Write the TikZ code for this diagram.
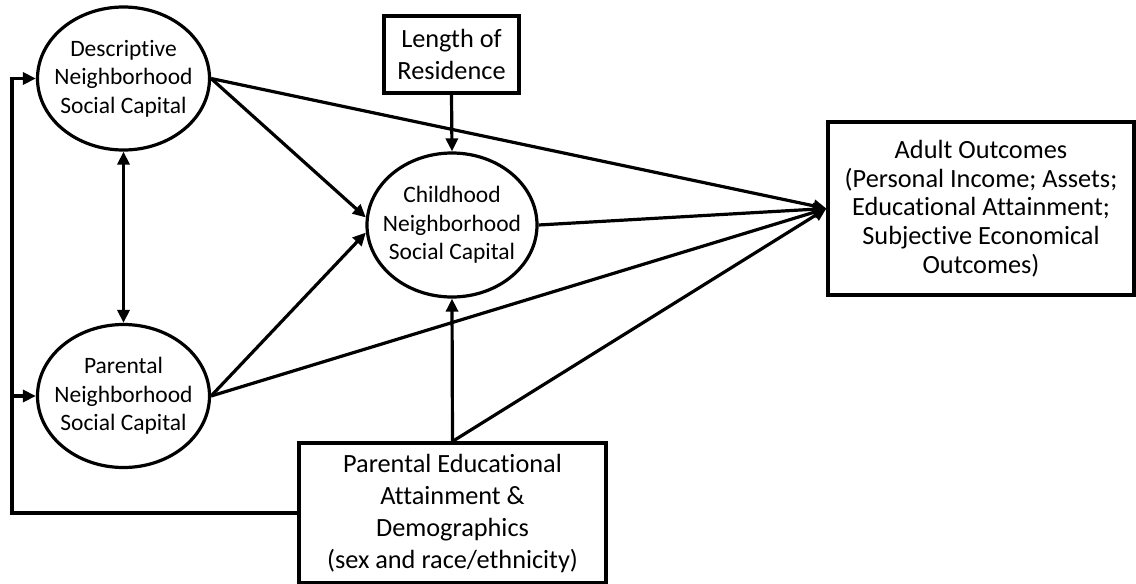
\documentclass[tikz,border=0pt]{standalone}
\usepackage{fontspec}
\setmainfont{Carlito}[Ligatures={NoCommon}]
\usetikzlibrary{shapes.geometric,arrows.meta}
\begin{document}
\begin{tikzpicture}[x=1pt,y=-1pt,
  line width=3.2pt,
  latent/.style={draw, ellipse, minimum width=172pt, minimum height=143pt,
    inner xsep=-15pt, inner ysep=0pt, align=center,
    font=\fontsize{23.5}{28.5}\selectfont},
  obsbox/.style={draw, rectangle, align=center, inner sep=0pt,
    font=\fontsize{26.3}{32}\selectfont},
  arr/.style={-{Triangle[length=13pt,width=12pt]}},
  darr/.style={{Triangle[length=13pt,width=12pt]}-{Triangle[length=13pt,width=12pt]}}]

\useasboundingbox (0,0) rectangle (1136,584);

% latent constructs
\node[latent] (desc)  at (123.5,78.5) {Descriptive\\Neighborhood\\Social Capital};
\node[latent] (par)   at (123.5,396)  {Parental\\Neighborhood\\Social Capital};
\node[latent, minimum width=170pt, minimum height=144pt] (child) at (452,225)
  {Childhood\\Neighborhood\\Social Capital};

% observed variables
\node[obsbox, minimum width=135pt, minimum height=77pt] (len) at (451.5,54.5)
  {Length of\\Residence};
\node[obsbox, minimum width=306pt, minimum height=173pt,
  font=\fontsize{26.3}{28.7}\selectfont] (adult) at (981,208.5)
  {Adult Outcomes\\(Personal Income; Assets;\\Educational Attainment;\\Subjective Economical\\Outcomes)};
\node[obsbox, minimum width=307pt, minimum height=140pt] (ped) at (452.5,513)
  {Parental Educational\\Attainment \&\\Demographics\\(sex and race/ethnicity)};

% left feedback bus
\coordinate (bus) at (12,0);

% paths
\draw[darr] (desc.south) -- (par.north);
\draw[arr] (desc.east) -- (adult.west);
\draw[arr] (desc.east) -- (child.175);
\draw[arr] (par.east) -- (child.185);
\draw[arr] (par.east) -- (adult.west);
\draw[arr] (child.east) -- (adult.west);
\draw[arr] (len.south) -- (child.north);
\draw[arr] (ped.north) -- (child.south);
\draw[arr] (ped.north) -- (adult.west);
\draw[arr, line join=miter] (ped.west) -- (ped.west -| bus) |- (desc.west);
\draw[arr] (par.west -| bus) -- (par.west);
\end{tikzpicture}
\end{document}
